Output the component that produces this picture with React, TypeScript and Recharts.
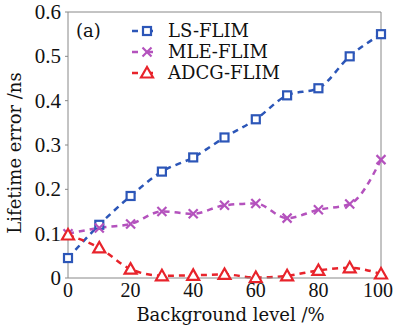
import React from "react";
import { LineChart, Line, XAxis, YAxis, ReferenceLine } from "recharts";

const backgroundLevels = [0, 10, 20, 30, 40, 50, 60, 70, 80, 90, 100];
const lsFlim = [0.045, 0.12, 0.185, 0.24, 0.272, 0.317, 0.358, 0.412, 0.428, 0.5, 0.55];
const mleFlim = [0.1, 0.113, 0.122, 0.15, 0.145, 0.164, 0.168, 0.135, 0.154, 0.167, 0.267];
const adcgFlim = [0.097, 0.068, 0.02, 0.005, 0.006, 0.008, 0.001, 0.005, 0.017, 0.023, 0.009];
const xTicks = [0, 20, 40, 60, 80, 100];
const yTicks = [0, 0.1, 0.2, 0.3, 0.4, 0.5, 0.6];

const data = backgroundLevels.map((x, i) => ({
  x,
  ls: lsFlim[i],
  mle: mleFlim[i],
  adcg: adcgFlim[i],
}));

const BLUE = "#2c56b8";
const PURPLE = "#b452bd";
const RED = "#e8232b";
const FONT = "'DejaVu Serif', serif";
const TICK_FONT = "'Liberation Serif', serif";

const SquareDot = (props: any) => {
  const { cx, cy } = props;
  if (cx == null || cy == null) return null;
  return <rect x={cx - 4} y={cy - 4} width={8} height={8} fill="#fff" stroke={BLUE} strokeWidth={2.2} />;
};
const CrossDot = (props: any) => {
  const { cx, cy } = props;
  if (cx == null || cy == null) return null;
  const s = 4.5;
  return (
    <g stroke={PURPLE} strokeWidth={2.2}>
      <line x1={cx - s} y1={cy - s} x2={cx + s} y2={cy + s} />
      <line x1={cx - s} y1={cy + s} x2={cx + s} y2={cy - s} />
    </g>
  );
};
const TriDot = (props: any) => {
  const { cx, cy } = props;
  if (cx == null || cy == null) return null;
  return (
    <polygon
      points={`${cx},${cy - 6} ${cx - 6},${cy + 4.5} ${cx + 6},${cy + 4.5}`}
      fill="#fff"
      stroke={RED}
      strokeWidth={2.2}
    />
  );
};

const legendItems = [
  { name: "LS-FLIM", color: BLUE, Dot: SquareDot },
  { name: "MLE-FLIM", color: PURPLE, Dot: CrossDot },
  { name: "ADCG-FLIM", color: RED, Dot: TriDot },
];

const LegendBox = () => (
  <div style={{ position: "absolute", left: 132, top: 20, fontFamily: FONT, fontSize: 18, color: "#111", lineHeight: "21px" }}>
    {legendItems.map(({ name, color, Dot }) => (
      <div key={name} style={{ display: "flex", alignItems: "center", height: 21 }}>
        <svg width={34} height={16}>
          <line x1={0} y1={8} x2={30} y2={8} stroke={color} strokeWidth={2.5} strokeDasharray="6 9" />
          <Dot cx={15} cy={8} />
        </svg>
        <span style={{ marginLeft: 2 }}>{name}</span>
      </div>
    ))}
  </div>
);

const XTick = (props: any) => {
  const { x, y, payload } = props;
  const last = payload.value === 100;
  return (
    <text x={last ? x - 3 : x} y={y} dy={12} textAnchor="middle" fontFamily={TICK_FONT} fontSize={20} fill="#111">
      {payload.value}
    </text>
  );
};

const YTick = (props: any) => {
  const { x, y, payload } = props;
  const v = payload.value as number;
  const label = v === 0 ? "0" : String(Number(v.toFixed(1)));
  return (
    <text x={x - 2} y={y} dy={7} textAnchor="end" fontFamily={TICK_FONT} fontSize={21} fill="#111">
      {label}
    </text>
  );
};

const YLabel = (props: any) => {
  const vb = props.viewBox || {};
  const cx = 15;
  const cy = (vb.y || 12) + (vb.height || 266) / 2 + 8;
  return (
    <text x={cx} y={cy} dy={6} transform={`rotate(-90, ${cx}, ${cy})`} textAnchor="middle" fontFamily={FONT} fontSize={18} fill="#111">
      Lifetime error /ns
    </text>
  );
};

export default function App() {
  return (
    <div style={{ position: "absolute", left: 0, top: 0, width: 395, height: 329, background: "#fff" }}>
      <LineChart width={395} height={329} data={data} margin={{ top: 12, right: 14, bottom: 0, left: 0 }}>
        <XAxis
          dataKey="x"
          type="number"
          domain={[0, 100]}
          ticks={xTicks}
          height={51}
          stroke="#888"
          tickLine={false}
          tick={<XTick />}
          tickMargin={1}
          label={{ value: "Background level /%", position: "insideBottom", offset: 8, fill: "#111", fontSize: 18, fontFamily: FONT, dx: 6 }}
        />
        <YAxis
          type="number"
          domain={[0, 0.6]}
          ticks={yTicks}
          width={68}
          stroke="#888"
          tickLine={{ stroke: "#888" }}
          tickSize={3}
          tick={<YTick />}
          label={<YLabel />}
        />
        <ReferenceLine y={0.6} stroke="#888" />
        <ReferenceLine x={100} stroke="#888" />
        <Line dataKey="ls" name="LS-FLIM" type="monotone" stroke={BLUE} strokeWidth={2.5} strokeDasharray="6 5" dot={<SquareDot />} isAnimationActive={false} />
        <Line dataKey="mle" name="MLE-FLIM" type="monotone" stroke={PURPLE} strokeWidth={2.5} strokeDasharray="6 5" dot={<CrossDot />} isAnimationActive={false} />
        <Line dataKey="adcg" name="ADCG-FLIM" type="monotone" stroke={RED} strokeWidth={2.5} strokeDasharray="6 5" dot={<TriDot />} isAnimationActive={false} />
        <text x={76} y={37} fontFamily={FONT} fontSize={18} fill="#111">(a)</text>
      </LineChart>
      <LegendBox />
    </div>
  );
}
